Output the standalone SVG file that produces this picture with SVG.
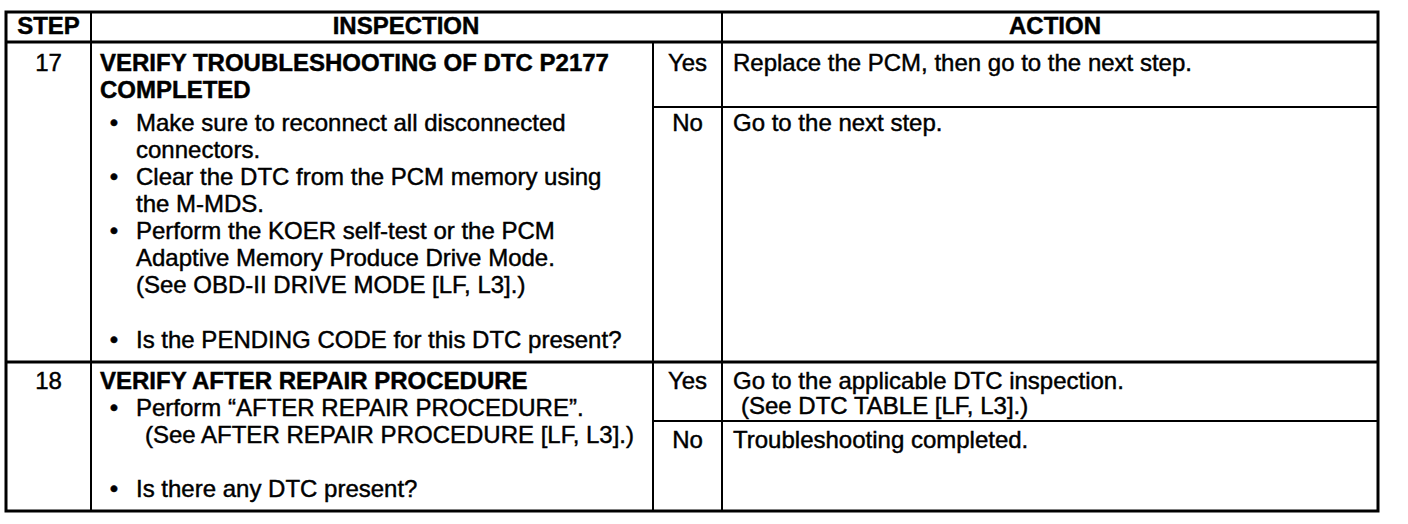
<svg xmlns="http://www.w3.org/2000/svg" width="1408" height="524" viewBox="0 0 1408 524">
<style>
.t{font-family:"Liberation Sans",Arial,Helvetica,sans-serif;font-size:24px;fill:#000;stroke:#000;stroke-width:0.45}
.b{font-weight:bold}
.c{text-anchor:middle}
.ln{stroke:#000;stroke-width:2;fill:none}
.ol{stroke:#000;stroke-width:3;fill:none}
</style>
<rect width="1408" height="524" fill="#fff"/>
<g id="connectors">
<rect class="ol" x="6" y="12" width="1372" height="499"/>
<line class="ol" x1="6" y1="42" x2="1378" y2="42"/>
<line class="ol" x1="6" y1="362" x2="1378" y2="362"/>
<line class="ln" x1="91" y1="12" x2="91" y2="511"/>
<line class="ln" x1="722" y1="12" x2="722" y2="511"/>
<line class="ln" x1="653" y1="42" x2="653" y2="511"/>
<line class="ln" x1="653" y1="107" x2="1378" y2="107"/>
<line class="ln" x1="653" y1="421" x2="1378" y2="421"/>
</g>
<g id="header">
<text class="t b c" x="48.5" y="34">STEP</text>
<text class="t b c" x="406" y="34">INSPECTION</text>
<text class="t b c" x="1055" y="34">ACTION</text>
</g>
<g id="step17">
<text class="t c" x="48.5" y="71">17</text>
<text class="t b" x="100" y="71">VERIFY TROUBLESHOOTING OF DTC P2177</text>
<text class="t b" x="100" y="98">COMPLETED</text>
<text class="t c" x="114" y="131">•</text>
<text class="t" x="136" y="131">Make sure to reconnect all disconnected</text>
<text class="t" x="136" y="158">connectors.</text>
<text class="t c" x="114" y="185">•</text>
<text class="t" x="136" y="185">Clear the DTC from the PCM memory using</text>
<text class="t" x="136" y="212">the M-MDS.</text>
<text class="t c" x="114" y="239">•</text>
<text class="t" x="136" y="239">Perform the KOER self-test or the PCM</text>
<text class="t" x="136" y="266">Adaptive Memory Produce Drive Mode.</text>
<text class="t" x="136" y="293">(See OBD-II DRIVE MODE [LF, L3].)</text>
<text class="t c" x="114" y="348">•</text>
<text class="t" x="136" y="348">Is the PENDING CODE for this DTC present?</text>
</g>
<g id="step17-yes">
<text class="t c" x="687.5" y="71">Yes</text>
<text class="t" x="733" y="71">Replace the PCM, then go to the next step.</text>
</g>
<g id="step17-no">
<text class="t c" x="687.5" y="131">No</text>
<text class="t" x="733" y="131">Go to the next step.</text>
</g>
<g id="step18">
<text class="t c" x="48.5" y="389">18</text>
<text class="t b" x="100" y="389">VERIFY AFTER REPAIR PROCEDURE</text>
<text class="t c" x="114" y="416">•</text>
<text class="t" x="136" y="416">Perform “AFTER REPAIR PROCEDURE”.</text>
<text class="t" x="145" y="443">(See AFTER REPAIR PROCEDURE [LF, L3].)</text>
<text class="t c" x="114" y="497">•</text>
<text class="t" x="136" y="497">Is there any DTC present?</text>
</g>
<g id="step18-yes">
<text class="t c" x="687.5" y="389">Yes</text>
<text class="t" x="733" y="389">Go to the applicable DTC inspection.</text>
<text class="t" x="741" y="414">(See DTC TABLE [LF, L3].)</text>
</g>
<g id="step18-no">
<text class="t c" x="687.5" y="448">No</text>
<text class="t" x="733" y="448">Troubleshooting completed.</text>
</g>
</svg>
